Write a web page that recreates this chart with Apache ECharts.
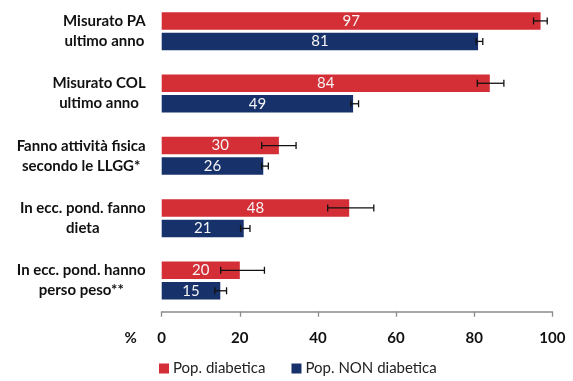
<!DOCTYPE html>
<html>
<head>
<meta charset="utf-8">
<script src="https://cdn.jsdelivr.net/npm/echarts@6/dist/echarts.min.js"></script>
<style>
  html, body { margin: 0; padding: 0; background: #fff; }
  #chart { width: 573px; height: 381px; }
</style>
</head>
<body>
<div id="chart"></div>
<script>
// Indicators (top to bottom)
const categories = [
  'Misurato PA\nultimo anno',
  'Misurato COL\nultimo anno',
  'Fanno attività fisica\nsecondo le LLGG*',
  'In ecc. pond. fanno\ndieta',
  'In ecc. pond. hanno\nperso peso**'
];
const seriesNames = ['Pop. diabetica', 'Pop. NON diabetica'];

// Percentages
const diabetici = [97, 84, 30, 48, 20];
const nonDiabetici = [81, 49, 26, 21, 15];

// 95% confidence intervals [low, high]
const ciDiabetici = [[95.2, 98.7], [80.8, 87.6], [25.6, 34.4], [42.5, 54.3], [15.1, 26.3]];
const ciNonDiabetici = [[80.5, 82.2], [48.4, 50.4], [25.6, 27.3], [20.2, 22.6], [13.6, 16.6]];

const xTicks = [0, 20, 40, 60, 80, 100];

const RED = '#D42E36';
const BLUE = '#17326B';
const FONT = 'Lato, "Open Sans", sans-serif';

// Bar layout shared by the bars and the error whiskers
const CAT_GAP = 0.39;   // barCategoryGap
const BAR_GAP = 0.17;   // barGap

function whiskers(ci, seriesIdx) {
  return {
    type: 'custom',
    name: seriesNames[seriesIdx] + ' IC',
    silent: true,
    z: 5,
    data: ci.map((c, i) => [i, c[0], c[1]]),
    renderItem: function (params, api) {
      const band = api.size([0, 1])[1];
      const area = band * (1 - CAT_GAP);
      const w = area / (2 + BAR_GAP);
      const off = (w + w * BAR_GAP) / 2 * (seriesIdx === 0 ? -1 : 1);
      const lo = api.coord([api.value(1), api.value(0)]);
      const hi = api.coord([api.value(2), api.value(0)]);
      const y = lo[1] + off;
      const cap = 3.5;
      const st = { stroke: '#111', lineWidth: 1.3 };
      return {
        type: 'group',
        children: [
          { type: 'line', shape: { x1: lo[0], y1: y, x2: hi[0], y2: y }, style: st },
          { type: 'line', shape: { x1: lo[0], y1: y - cap, x2: lo[0], y2: y + cap }, style: st },
          { type: 'line', shape: { x1: hi[0], y1: y - cap, x2: hi[0], y2: y + cap }, style: st }
        ]
      };
    },
    encode: { x: [1, 2], y: 0 }
  };
}

const chart = echarts.init(document.getElementById('chart'), null, { renderer: 'canvas' });

chart.setOption({
  animation: false,
  backgroundColor: '#fff',
  textStyle: { fontFamily: FONT },
  grid: { left: 161.7, right: 20.7, top: 0, bottom: 69.3, containLabel: false },
  legend: {
    data: seriesNames,
    left: 159,
    top: 361,
    padding: 0,
    icon: 'rect',
    itemWidth: 10,
    itemHeight: 10,
    itemGap: 26,
    textStyle: { fontFamily: FONT, fontSize: 15, color: '#222', padding: [0, 0, 0, -1] }
  },
  xAxis: {
    type: 'value',
    min: 0,
    max: 100,
    interval: 20,
    name: '%',
    nameLocation: 'start',
    nameGap: 25,
    nameTextStyle: {
      fontFamily: FONT, fontSize: 15, fontWeight: 'bold', color: '#111',
      verticalAlign: 'top', lineHeight: 16, padding: [18, 0, 0, 0]
    },
    axisLine: { show: true, lineStyle: { color: '#8a8a8a', width: 1.6 } },
    axisTick: { show: true, length: 5, lineStyle: { color: '#8a8a8a', width: 1.3 } },
    splitLine: { show: false },
    axisLabel: {
      margin: 19,
      fontFamily: FONT, fontSize: 15, fontWeight: 'bold', color: '#111',
      formatter: v => (xTicks.indexOf(v) >= 0 ? String(v) : '')
    }
  },
  yAxis: {
    type: 'category',
    data: categories,
    inverse: true,
    axisLine: { show: false },
    axisTick: { show: false },
    axisLabel: {
      margin: 16,
      align: 'right',
      formatter: function (v) {
        return v.split('\n').map(s => '{c|' + s + '}').join('\n');
      },
      rich: {
        c: {
          align: 'center',
          fontFamily: FONT, fontSize: 15, fontWeight: 'bold', color: '#111', lineHeight: 20
        }
      }
    }
  },
  series: [
    {
      name: seriesNames[0],
      type: 'bar',
      data: diabetici,
      itemStyle: { color: RED },
      barCategoryGap: (CAT_GAP * 100) + '%',
      barGap: (BAR_GAP * 100) + '%',
      label: {
        show: true, position: 'inside', color: '#f4f4f4',
        fontFamily: FONT, fontSize: 15
      }
    },
    {
      name: seriesNames[1],
      type: 'bar',
      data: nonDiabetici,
      itemStyle: { color: BLUE },
      barCategoryGap: (CAT_GAP * 100) + '%',
      barGap: (BAR_GAP * 100) + '%',
      label: {
        show: true, position: 'inside', color: '#f4f4f4',
        fontFamily: FONT, fontSize: 15
      }
    },
    whiskers(ciDiabetici, 0),
    whiskers(ciNonDiabetici, 1)
  ]
});
</script>
</body>
</html>
